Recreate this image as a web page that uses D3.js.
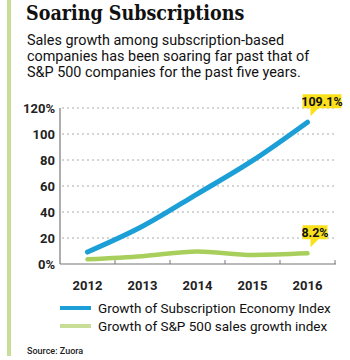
<!DOCTYPE html>
<html>
<head>
<meta charset="utf-8">
<script src="https://cdn.jsdelivr.net/npm/d3@7"></script>
<style>
  body { margin: 0; background: #fff; }
  svg { display: block; }
</style>
</head>
<body>
<div id="chart"></div>
<script>
// 数据
let years = [2012, 2013, 2014, 2015, 2016];
let subscription = [9.2, 29, 54, 79.5, 109.1];
let sp500 = [3.6, 6, 9.7, 7, 8.2];
let yTicks = [0, 20, 40, 60, 80, 100, 120];
let seriesNames = ['Growth of Subscription Economy Index', 'Growth of S&P 500 sales growth index'];
let subtitle = [
  'Sales growth among subscription-based',
  'companies has been soaring far past that of',
  'S&P 500 companies for the past five years.'
];

let width = 350,
  height = 360;

let blue = '#1b9fd6',
  green = '#a8cf5c',
  paleGreen = '#c8de98',
  yellow = '#fbe11c';

let narrow = '"Liberation Sans Narrow", "Roboto", sans-serif';
let sans = '"Roboto", "Open Sans", sans-serif';

let x = d3.scaleBand()
  .domain(years)
  .range([60, 335]);

let y = d3.scaleLinear()
  .domain([0, 120])
  .range([264, 108]);

let line = d3.line()
  .x((d, i) => x(years[i]) + x.bandwidth() / 2)
  .y(d => y(d))
  .curve(d3.curveMonotoneX);

function chart() {
  const svg = d3.select('#chart').append('svg')
    .attr('width', width)
    .attr('height', height);

  // 左侧竖条
  svg.append('rect')
    .attr('x', 7).attr('y', 0)
    .attr('width', 4).attr('height', 356)
    .attr('fill', paleGreen);

  svg.append('text')
    .attr('x', 26).attr('y', 20)
    .style('font', 'bold 19.5px "DejaVu Serif Condensed", "DejaVu Serif", serif')
    .attr('fill', '#111')
    .text('Soaring Subscriptions');

  svg.append('g').selectAll('text')
    .data(subtitle)
    .enter().append('text')
      .attr('x', 27)
      .attr('y', (d, i) => 45 + i * 16)
      .style('font', `14.4px ${sans}`)
      .attr('fill', '#111')
      .text(d => d);

  // 网格
  svg.append('g').selectAll('line')
    .data(yTicks.filter(d => d > 0))
    .enter().append('line')
      .attr('x1', 62).attr('x2', 336)
      .attr('y1', d => y(d)).attr('y2', d => y(d))
      .attr('stroke', '#aaa')
      .attr('stroke-width', 1)
      .attr('stroke-dasharray', '2,3');

  svg.append('g').selectAll('text')
    .data(yTicks)
    .enter().append('text')
      .attr('x', 55)
      .attr('y', d => y(d))
      .attr('dy', '0.35em')
      .attr('text-anchor', 'end')
      .style('font', `bold 13px ${narrow}`)
      .attr('fill', '#222')
      .text(d => (d === 0 || d === 120) ? d + '%' : d);

  // 坐标轴
  svg.append('line')
    .attr('x1', 60).attr('x2', 60)
    .attr('y1', y(120)).attr('y2', y(0))
    .attr('stroke', '#777').attr('stroke-width', 1.2);

  const xAxis = svg.append('g')
    .attr('transform', `translate(0, ${y(0)})`);
  xAxis.append('line')
    .attr('x1', 60).attr('x2', 336)
    .attr('stroke', '#777').attr('stroke-width', 1.2);
  xAxis.selectAll('.tick')
    .data(years)
    .enter().append('line')
      .attr('x1', d => x(d) + x.bandwidth()).attr('x2', d => x(d) + x.bandwidth())
      .attr('y1', 0).attr('y2', -4)
      .attr('stroke', '#777');
  xAxis.selectAll('text')
    .data(years)
    .enter().append('text')
      .attr('x', d => x(d) + x.bandwidth() / 2)
      .attr('y', 26)
      .attr('text-anchor', 'middle')
      .style('font', `bold 13px ${narrow}`)
      .attr('fill', '#222')
      .text(d => d);

  // 折线
  svg.append('path')
    .attr('d', line(sp500))
    .attr('fill', 'none')
    .attr('stroke', green)
    .attr('stroke-width', 4.5)
    .attr('stroke-linecap', 'round');

  svg.append('path')
    .attr('d', line(subscription))
    .attr('fill', 'none')
    .attr('stroke', blue)
    .attr('stroke-width', 5)
    .attr('stroke-linecap', 'round');

  // 标注
  const last = years.length - 1;
  const callouts = [
    {v: subscription[last], label: subscription[last] + '%', w: 39},
    {v: sp500[last], label: sp500[last] + '%', w: 25}
  ];
  callouts.forEach(c => {
    const cx = x(years[last]) + x.bandwidth() / 2;
    const top = y(c.v) - 28;
    const bx = cx - 5;
    const g = svg.append('g');
    g.append('path')
      .attr('d', `M${bx},${top}h${c.w}v14h${-c.w + 16}l-8,8v-8h-8z`)
      .attr('fill', yellow);
    g.append('text')
      .attr('x', bx + c.w / 2)
      .attr('y', top + 7)
      .attr('dy', '0.36em')
      .attr('text-anchor', 'middle')
      .style('font', `bold 12.5px ${narrow}`)
      .attr('fill', '#111')
      .text(c.label);
  });

  // 图例
  const legend = svg.append('g').selectAll('g')
    .data(seriesNames)
    .enter().append('g')
      .attr('transform', (d, i) => `translate(0, ${308 + i * 18})`);
  legend.append('line')
    .attr('x1', 60).attr('x2', 91)
    .attr('stroke', (d, i) => i === 0 ? blue : paleGreen)
    .attr('stroke-width', 4);
  legend.append('text')
    .attr('x', 98)
    .attr('dy', '0.35em')
    .style('font', `13.5px ${sans}`)
    .attr('fill', '#111')
    .text(d => d);

  svg.append('text')
    .attr('x', 27).attr('y', 354)
    .style('font', `500 9px ${sans}`)
    .attr('fill', '#222')
    .text('Source: Zuora');

  return svg.node();
}

chart();
</script>
</body>
</html>
